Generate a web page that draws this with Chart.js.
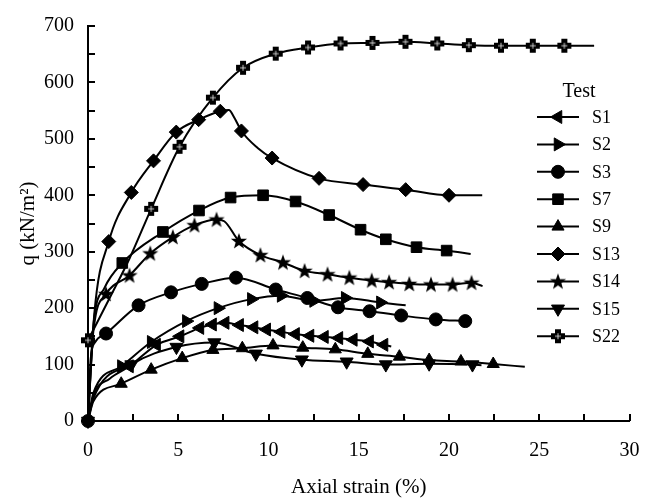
<!DOCTYPE html>
<html>
<head>
<meta charset="utf-8">
<script src="https://cdn.jsdelivr.net/npm/chart.js@4"></script>
<style>
  html, body { margin: 0; background: #fff; }
</style>
</head>
<body>
<canvas id="chart" width="652" height="500"></canvas>
<script>
// marker points [strain %, q kN/m2]
const s1Marks = [[2.3,97],[3.8,135],[5.1,150],[6.2,165],[6.9,171],[7.6,174],[8.4,170],[9.2,166],[9.9,162],[10.7,158],[11.5,154],[12.3,151],[13.1,149],[13.9,147],[14.7,144],[15.6,141],[16.4,135]];
const s2Marks = [[1.85,97],[3.5,140],[5.45,177],[7.2,200],[9.05,216],[10.7,222],[12.5,213],[14.25,218],[16.2,210]];
const s3Marks = [[0,0],[1.0,155],[2.8,205],[4.6,228],[6.3,243],[8.2,254],[10.4,233],[12.15,218],[13.85,201.5],[15.6,194.5],[17.35,187],[19.27,180],[20.9,177]];
const s7Marks = [[1.9,280],[4.15,335],[6.15,373],[7.9,396],[9.7,400],[11.5,389],[13.36,365],[15.1,339],[16.5,322],[18.2,308],[19.87,302]];
const s9Marks = [[1.84,66],[3.5,91],[5.22,111.5],[6.92,126],[8.55,129],[10.25,134],[11.9,130],[13.7,127],[15.5,119],[17.25,114],[18.9,108],[20.66,105.5],[22.45,101]];
const s13Marks = [[0,0],[1.15,318],[2.4,405],[3.63,461],[4.89,512],[6.13,534],[7.33,549],[8.5,514],[10.2,466],[12.8,430],[15.24,419],[17.6,410],[20.0,400]];
const s14Marks = [[1.0,225],[2.3,258],[3.45,297],[4.7,326],[5.9,347],[7.12,357],[8.36,319],[9.55,294],[10.8,281],[12.0,266],[13.27,260],[14.48,254],[15.72,249],[16.68,246],[17.8,243],[19.0,242],[20.2,242],[21.25,245]];
const s15Marks = [[0,0],[2.4,100],[4.9,131],[7.0,139],[9.3,119],[11.85,108.6],[14.33,105],[16.5,100],[18.9,101.5],[21.3,100]];
const s22Marks = [[0,143],[3.5,376],[5.07,486],[6.92,573],[8.59,626],[10.4,651],[12.19,662],[13.99,669],[15.76,670],[17.59,672],[19.35,669],[21.1,666],[22.88,665],[24.64,665],[26.39,665]];

// extra points on the curves between markers (no marker drawn)
const s1Extra = [[0,0],[0.3,45],[1.2,75],[16.8,132]];
const s2Extra = [[0,0],[0.3,50],[17.6,205]];
const s3Extra = [[0.15,110],[0.4,140]];
const s7Extra = [[0,0],[0.3,170],[0.9,235],[21.2,296]];
const s9Extra = [[0,0],[0.3,35],[24.2,96]];
const s13Extra = [[0.35,190],[7.8,551],[8.1,538],[9.4,484],[21.84,400]];
const s14Extra = [[0,0],[0.3,160],[7.55,354],[21.86,239]];
const s15Extra = [[0.3,40],[21.8,99]];
const s22Extra = [[1.2,218],[2.3,288],[28.04,665]];

const testNames = ['S1','S2','S3','S7','S9','S13','S14','S15','S22'];
const xTicks = [0,5,10,15,20,25,30];
const yTicks = [0,100,200,300,400,500,600,700];

// custom marker images
function makeStar() {
  const c = document.createElement('canvas');
  c.width = 18; c.height = 18;
  const g = c.getContext('2d');
  g.fillStyle = '#000';
  g.beginPath();
  for (let i = 0; i < 10; i++) {
    const r = i % 2 ? 3.5 : 8.5;
    const a = -Math.PI/2 + i*Math.PI/5;
    const px = 9 + r*Math.cos(a), py = 9.5 + r*Math.sin(a);
    i ? g.lineTo(px, py) : g.moveTo(px, py);
  }
  g.closePath(); g.fill();
  return c;
}
function makePlus() {
  const c = document.createElement('canvas');
  c.width = 16; c.height = 16;
  const g = c.getContext('2d');
  g.fillStyle = '#000';
  g.fillRect(5, 1, 6, 14);
  g.fillRect(1, 5, 14, 6);
  g.fillStyle = 'rgba(255,255,255,0.75)';
  g.fillRect(7.5, 5, 1, 6);
  g.fillRect(5, 7.5, 6, 1);
  return c;
}
const starImg = makeStar();
const plusImg = makePlus();

const styles = {
  S1:  {pointStyle:'triangle', rotation:270, radius:7.5},
  S2:  {pointStyle:'triangle', rotation:90,  radius:7.5},
  S3:  {pointStyle:'circle',   rotation:0,   radius:6.5},
  S7:  {pointStyle:'rect',     rotation:0,   radius:7.5},
  S9:  {pointStyle:'triangle', rotation:0,   radius:7},
  S13: {pointStyle:'rectRot',  rotation:0,   radius:7},
  S14: {pointStyle:starImg,    rotation:0,   radius:8},
  S15: {pointStyle:'triangle', rotation:180, radius:7.5},
  S22: {pointStyle:plusImg,    rotation:0,   radius:8}
};

const series = {
  S1:[s1Marks,s1Extra], S2:[s2Marks,s2Extra], S3:[s3Marks,s3Extra],
  S7:[s7Marks,s7Extra], S9:[s9Marks,s9Extra], S13:[s13Marks,s13Extra],
  S14:[s14Marks,s14Extra], S15:[s15Marks,s15Extra], S22:[s22Marks,s22Extra]
};

const toXY = arr => arr.map(p => ({x:p[0], y:p[1]}));

const datasets = [];
testNames.forEach(name => {
  const [marks, extra] = series[name];
  const st = styles[name];
  datasets.push({
    label: name,
    data: toXY(marks),
    showLine: false,
    pointStyle: st.pointStyle,
    rotation: st.rotation,
    pointRadius: st.radius,
    backgroundColor: '#000',
    borderColor: '#000',
    pointBorderWidth: 1,
    clip: false,
    order: 1
  });
  datasets.push({
    label: name + ' curve',
    data: toXY(marks.concat(extra).sort((a,b) => a[0]-b[0])),
    showLine: true,
    pointRadius: 0,
    borderColor: '#000',
    borderWidth: 2,
    cubicInterpolationMode: 'monotone',
    clip: false,
    order: 2
  });
});

const FONT = "'Liberation Serif', 'Times New Roman', serif";

// inward tick marks
const tickPlugin = {
  id: 'inTicks',
  afterDatasetsDraw(chart) {
    const {ctx, chartArea, scales:{x, y}} = chart;
    ctx.save();
    ctx.strokeStyle = '#000';
    ctx.lineWidth = 2;
    ctx.beginPath();
    for (let v = 0; v <= 30; v += 2.5) {
      const px = Math.round(x.getPixelForValue(v));
      ctx.moveTo(px, chartArea.bottom);
      ctx.lineTo(px, chartArea.bottom - 7);
    }
    for (let v = 0; v <= 700; v += 50) {
      const py = Math.round(y.getPixelForValue(v));
      ctx.moveTo(chartArea.left, py);
      ctx.lineTo(chartArea.left + 7, py);
    }
    ctx.stroke();
    ctx.restore();
  }
};

// legend with line and marker
const legendPlugin = {
  id: 'testLegend',
  afterDraw(chart) {
    const ctx = chart.ctx;
    ctx.save();
    ctx.fillStyle = '#000';
    ctx.strokeStyle = '#000';
    ctx.font = '20px ' + FONT;
    ctx.textAlign = 'center';
    ctx.textBaseline = 'middle';
    ctx.fillText('Test', 579, 92);
    ctx.font = '18px ' + FONT;
    ctx.textAlign = 'left';
    testNames.forEach((name, i) => {
      const yy = 117 + i*27.4;
      ctx.lineWidth = 2;
      ctx.beginPath();
      ctx.moveTo(537, yy);
      ctx.lineTo(579, yy);
      ctx.stroke();
      const st = styles[name];
      ctx.lineWidth = 1;
      Chart.helpers.drawPoint(ctx, {pointStyle: st.pointStyle, rotation: st.rotation, radius: st.radius, borderWidth: 1}, 558, yy);
      ctx.fillText(name, 592, yy + 1);
    });
    ctx.restore();
  }
};

new Chart(document.getElementById('chart'), {
  type: 'scatter',
  data: { datasets },
  options: {
    responsive: false,
    animation: false,
    layout: { padding: { left: 0, right: 22.5, top: 18, bottom: 0 } },
    plugins: { legend: { display: false }, tooltip: { enabled: false } },
    scales: {
      x: {
        type: 'linear', min: 0, max: 30,
        afterBuildTicks: s => { s.ticks = xTicks.map(v => ({value: v})); },
        afterFit: s => { s.height = 79; s.paddingLeft = 10; s.paddingRight = 10; },
        grid: { display: false, drawTicks: false },
        border: { display: true, color: '#000', width: 2 },
        ticks: { color: '#000', padding: 18, font: { family: FONT, size: 20 } },
        title: { display: true, text: 'Axial strain (%)', color: '#000',
                 font: { family: FONT, size: 21 }, padding: { top: 8, bottom: 0 } }
      },
      y: {
        type: 'linear', min: 0, max: 700,
        afterBuildTicks: s => { s.ticks = yTicks.map(v => ({value: v})); },
        afterFit: s => { s.width = 88; },
        grid: { display: false, drawTicks: false },
        border: { display: true, color: '#000', width: 2 },
        ticks: { color: '#000', padding: 14, font: { family: FONT, size: 20 } },
        title: { display: true, text: 'q (kN/m²)', color: '#000',
                 font: { family: FONT, size: 21 }, padding: { top: 16, bottom: 4 } }
      }
    }
  },
  plugins: [tickPlugin, legendPlugin]
});
</script>
</body>
</html>
